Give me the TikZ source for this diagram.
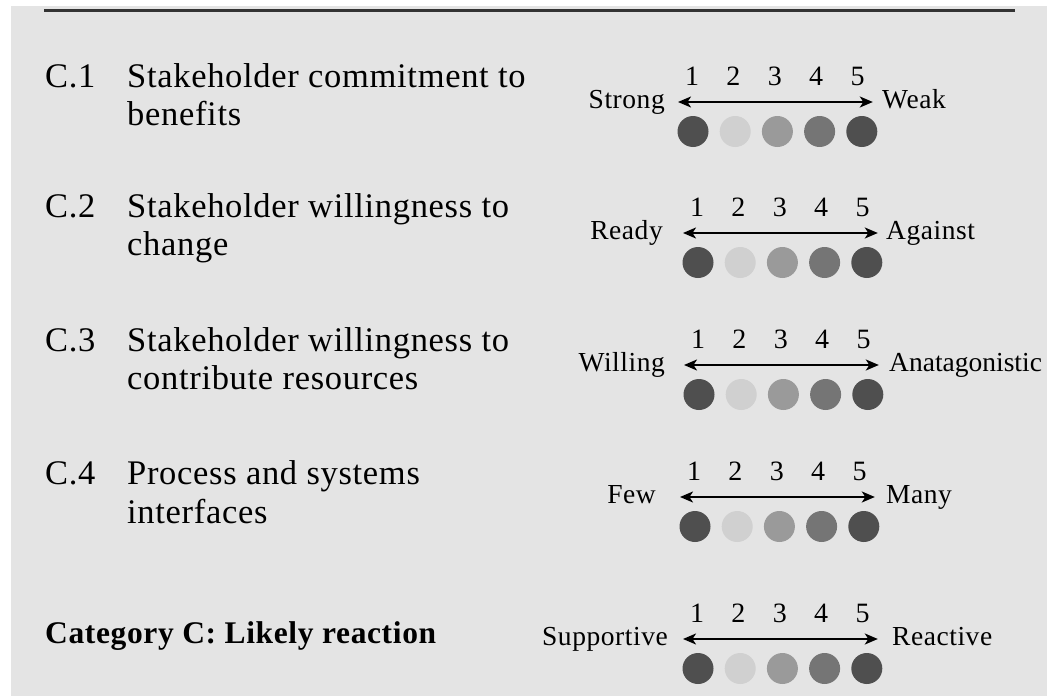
\documentclass[tikz,border=0pt]{standalone}
\usepackage{fontspec}
\setmainfont{Liberation Serif}[LetterSpace=2]
\usetikzlibrary{arrows.meta}

\definecolor{panel}{HTML}{E4E4E4}
\definecolor{rule}{HTML}{333333}
\definecolor{dotA}{HTML}{4F4F4F}
\definecolor{dotB}{HTML}{D0D0D0}
\definecolor{dotC}{HTML}{9A9A9A}
\definecolor{dotD}{HTML}{757575}

\tikzset{
  itemtxt/.style={inner sep=0pt, font=\fontsize{34.5}{38}\selectfont, anchor=base west},
  headtxt/.style={inner sep=0pt, font=\fontsize{31.5}{38}\selectfont\bfseries, anchor=base west},
  endtxt/.style={inner sep=0pt, font=\fontsize{27.5}{30}\selectfont},
  numtxt/.style={inner sep=0pt, font=\fontsize{28}{30}\selectfont, anchor=base},
  scalearrow/.style={line width=1.8pt, {Stealth[length=13pt,width=11pt,inset=3.5pt]}-{Stealth[length=13pt,width=11pt,inset=3.5pt]}},
  dot/.style={circle, minimum size=31pt, inner sep=0pt, draw=none},
  hrule/.style={rule, line width=3pt}
}

% #1 row name, #2 arrow y, #3 x of first dot, #4 left label, #5 its right edge,
% #6 right label, #7 its left edge
\newcommand\ratingscale[7]{%
  \foreach \k/\c in {1/dotA,2/dotB,3/dotC,4/dotD,5/dotA}{%
    \node[dot, fill=\c] (#1d\k) at ({#3+(\k-1)*42.2}, #2+29.5) {};
    \node[numtxt] (#1n\k) at ({#3-1+(\k-1)*41.4}, #2-17) {\k};
  }
  \coordinate (#1a) at (#3-15, #2);
  \coordinate (#1b) at ({#3+4*42.2+11}, #2);
  \draw[scalearrow] (#1a) -- (#1b);
  \node[endtxt, anchor=base east] (#1l) at (#5, #2+6) {#4};
  \node[endtxt, anchor=base west] (#1r) at (#7, #2+6) {#6};
}

\begin{document}
\begin{tikzpicture}[x=1pt, y=-1pt]
  \useasboundingbox (0,0) rectangle (1047,696);
  \fill[panel] (11,6) rectangle (1047,696);

  % top and bottom rules
  \coordinate (ruleTL) at (44,10);
  \coordinate (ruleTR) at (1015,10);
  \coordinate (ruleBL) at (44,697);
  \coordinate (ruleBR) at (1015,697);
  \draw[hrule] (ruleTL) -- (ruleTR);
  \draw[hrule, rule!60] (ruleBL) -- (ruleBR);

  % criteria on the left
  \node[itemtxt] (c1) at (45,87) {C.1};
  \node[itemtxt] (t1a) at (127,87) {Stakeholder commitment to};
  \node[itemtxt] (t1b) at (127,125) {benefits};

  \node[itemtxt] (c2) at (45,217) {C.2};
  \node[itemtxt] (t2a) at (127,217) {Stakeholder willingness to};
  \node[itemtxt] (t2b) at (127,255) {change};

  \node[itemtxt] (c3) at (45,351) {C.3};
  \node[itemtxt] (t3a) at (127,351) {Stakeholder willingness to};
  \node[itemtxt] (t3b) at (127,389) {contribute resources};

  \node[itemtxt] (c4) at (45,484) {C.4};
  \node[itemtxt] (t4a) at (127,484) {Process and systems};
  \node[itemtxt] (t4b) at (127,523) {interfaces};

  \node[headtxt] (cat) at (45,643) {Category C: Likely reaction};

  % rating scales on the right
  \ratingscale{sA}{102}{693}{Strong}{665}{Weak}{882}
  \ratingscale{sB}{233}{698}{Ready}{663}{Against}{886}
  \ratingscale{sC}{365}{699}{Willing}{665}{\addfontfeature{LetterSpace=0}Anatagonistic}{889}
  \ratingscale{sD}{497}{695}{Few}{656}{Many}{886}
  \ratingscale{sE}{639}{698}{Supportive}{668}{Reactive}{892}
\end{tikzpicture}
\end{document}
